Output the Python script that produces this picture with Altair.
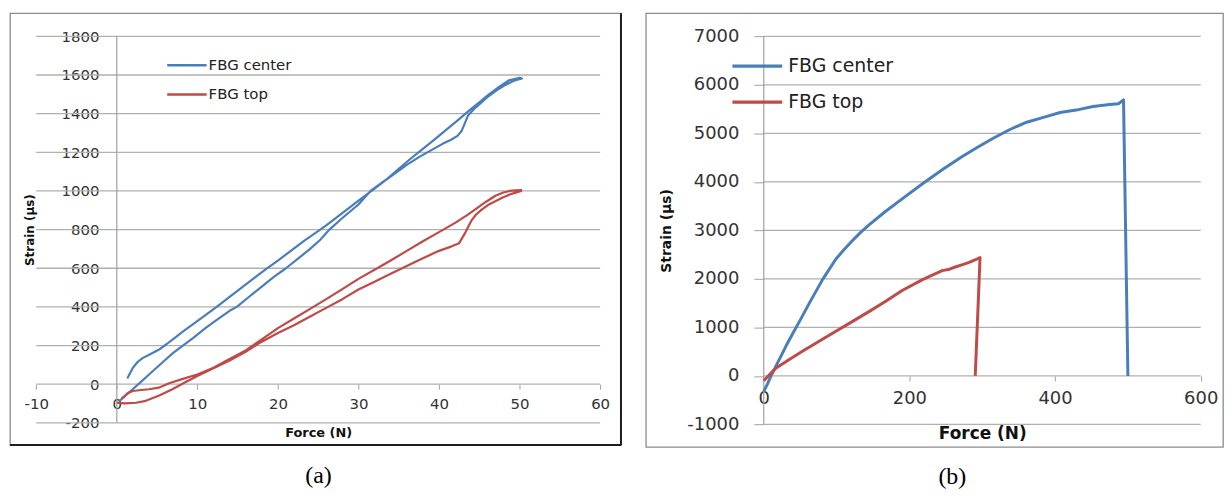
import altair as alt
import pandas as pd

# ---------------- data ----------------
SERIES = ["FBG center", "FBG top"]
COLORS = ["#4a7ebb", "#be4b48"]
X_TITLE = "Force (N)"
Y_TITLE = "Strain (µs)"
CAPTIONS = ["(a)", "(b)"]

A_X_TICKS = [-10, 0, 10, 20, 30, 40, 50, 60]
A_Y_TICKS = [-200, 0, 200, 400, 600, 800, 1000, 1200, 1400, 1600, 1800]
B_X_TICKS = [0, 200, 400, 600]
B_Y_TICKS = [-1000, 0, 1000, 2000, 3000, 4000, 5000, 6000, 7000]

# panel (a) FBG center: loading branch up, then unloading branch down
A_CENTER_FORCE = [0.3, 1.0, 2.0, 3.0, 4.0, 5.0, 6.0, 7.0, 8.2, 9.5, 11.0, 12.5, 14.0, 14.9, 16.5, 18.0,
                  19.5, 21.0, 22.5, 24.0, 25.2, 26.4, 28.0, 30.0, 31.5, 33.0, 34.5, 36.0, 37.5, 39.0,
                  40.5, 41.5, 42.3, 42.8, 43.2, 43.6, 44.5, 46.0, 47.2, 48.3, 49.3, 50.3,
                  50.0, 48.7, 47.5, 46.2, 45.0, 43.8, 42.5, 41.0, 39.5, 38.0, 36.5, 35.0, 33.5, 32.0,
                  30.5, 29.0, 27.5, 26.0, 24.9, 23.2, 21.6, 20.0, 18.6, 17.0, 15.5, 14.0, 12.4, 11.0,
                  9.6, 8.4, 7.2, 6.2, 5.2, 4.2, 3.2, 2.6, 2.0, 1.3]
A_CENTER_STRAIN = [-88, -62, -25, 12, 50, 88, 125, 162, 200, 240, 290, 335, 380, 400, 455, 505,
                   555, 600, 650, 700, 745, 800, 860, 930, 1000, 1045, 1090, 1135, 1175, 1210,
                   1245, 1265, 1285, 1310, 1350, 1390, 1430, 1485, 1522, 1550, 1570, 1582,
                   1586, 1573, 1540, 1500, 1458, 1418, 1372, 1320, 1268, 1218, 1168, 1115, 1060, 1012,
                   965, 918, 870, 822, 790, 740, 690, 640, 598, 548, 500, 452, 400, 358,
                   315, 278, 240, 208, 178, 156, 135, 116, 85, 30]

# panel (a) FBG top
A_TOP_FORCE = [0.0, 1.0, 2.4, 3.6, 5.2, 6.9, 8.5, 10.0, 12.0, 14.0, 16.0, 18.0, 20.0, 22.0, 24.0, 26.0,
               28.0, 30.0, 32.0, 34.0, 36.0, 38.0, 40.0, 41.5, 42.5, 43.3, 44.0, 44.6, 45.3, 46.2,
               47.9, 49.0, 50.2,
               50.2, 49.0, 48.0, 47.0, 45.8, 44.5, 43.5, 42.0, 40.0, 38.0, 36.0, 34.0, 32.0, 30.0,
               28.0, 26.0, 24.0, 22.0, 20.0, 18.0, 16.0, 14.0, 12.0, 10.0, 8.0, 6.5, 5.2, 4.0, 3.0,
               2.0, 1.4, 0.6]
A_TOP_STRAIN = [-95, -99, -96, -86, -60, -26, 10, 42, 82, 122, 168, 220, 265, 305, 350, 395,
                440, 490, 530, 572, 612, 652, 690, 712, 730, 787, 845, 878, 903, 930,
                966, 985, 1000,
                1005, 1002, 992, 975, 943, 905, 875, 835, 787, 740, 690, 640, 592, 545,
                492, 440, 390, 340, 290, 232, 175, 130, 85, 50, 25, 5, -18, -26, -30,
                -35, -45, -75]

# panel (b) FBG center
B_CENTER_FORCE = [0, 5, 10, 20, 30, 40, 50, 62.6, 80.9, 99.1, 110, 121.9, 133, 145, 167, 190, 218, 245,
                  272, 293, 315, 338, 361, 384, 407, 429, 452, 475, 487, 494, 500]
B_CENTER_STRAIN = [-320, -170, 0, 300, 600, 880, 1150, 1500, 1990, 2410, 2600, 2790, 2960, 3120, 3390,
                   3650, 3960, 4250, 4520, 4710, 4900, 5080, 5230, 5330, 5430, 5480, 5555, 5595, 5610,
                   5690, 0]

# panel (b) FBG top
B_TOP_FORCE = [0, 10, 17, 35, 53.6, 76, 99, 122, 145, 168, 190, 218, 245, 255, 262, 272, 282, 290,
               297, 290.4]
B_TOP_STRAIN = [-100, 60, 165, 340, 512, 715, 922, 1125, 1331, 1545, 1760, 1985, 2170, 2200, 2240,
                2290, 2340, 2390, 2440, 0]

# ---------------- styling / layout ----------------
FONT = "DejaVu Sans"
GRID = "#b0b0b0"
AXLINE = "#a0a0a0"
LABEL = "#333333"


def px(v, dom, size):
    return (v - dom[0]) / (dom[1] - dom[0]) * size


def panel(cfg):
    W, H = cfg["W"], cfg["H"]
    xdom, ydom = cfg["xdom"], cfg["ydom"]
    xt, yt = cfg["xticks"], cfg["yticks"]
    x0 = px(0, xdom, W)                 # pixel of force = 0
    y0 = H - px(0, ydom, H)             # pixel of strain = 0
    plot_cx = (px(xt[0], xdom, W) + px(xt[-1], xdom, W)) / 2
    plot_cy = H - (px(yt[0], ydom, H) + px(yt[-1], ydom, H)) / 2

    xaxis = alt.Axis(
        values=xt, labelExpr="'' + datum.value", grid=False, domain=False,
        ticks=True, tickSize=cfg["xtick"], tickColor=AXLINE, tickWidth=1,
        labelPadding=cfg["xpad"], labelFont=FONT, labelFontSize=cfg["lfs"], labelColor=LABEL,
        labelFlush=False, labelOverlap=False, offset=-(H - y0),
        title=X_TITLE, titleFont=FONT, titleFontSize=cfg["xtfs"], titleFontWeight="bold",
        titleColor="#111111", titleX=plot_cx, titleY=cfg["xtitle_dy"],
        titleAlign="center", titleBaseline="middle", titleAngle=0,
    )
    yaxis = alt.Axis(
        values=yt, labelExpr="'' + datum.value", grid=False, domain=False,
        ticks=cfg["ytick"] > 0, tickSize=max(cfg["ytick"], 1), tickColor=GRID, tickWidth=1.2,
        labelPadding=cfg["ypad"], labelFont=FONT, labelFontSize=cfg["lfs"], labelColor=LABEL,
        labelFlush=False, labelOverlap=False, offset=-x0,
        title=Y_TITLE, titleFont=FONT, titleFontSize=cfg["ytfs"], titleFontWeight="bold",
        titleColor="#111111", titleX=cfg["ytitle_x"] - x0, titleY=plot_cy,
        titleAlign="center", titleBaseline="middle", titleAngle=270,
    )
    xs = alt.Scale(domain=xdom, nice=False, zero=False)
    ys = alt.Scale(domain=ydom, nice=False, zero=False)

    def X(f):
        return alt.X(f, type="quantitative", scale=xs, axis=xaxis)

    def Y(f):
        return alt.Y(f, type="quantitative", scale=ys, axis=yaxis)

    grid_df = pd.DataFrame({"gy": yt, "gx0": [xt[0]] * len(yt), "gx1": [xt[-1]] * len(yt)})
    grid = alt.Chart(grid_df).mark_rule(color=GRID, strokeWidth=1.3).encode(
        x=X("gx0"), x2="gx1", y=Y("gy"))

    vline_df = pd.DataFrame({"vx": [0], "vy0": [yt[0]], "vy1": [yt[-1]]})
    vline = alt.Chart(vline_df).mark_rule(color=AXLINE, strokeWidth=1.2).encode(
        x=X("vx"), y=Y("vy0"), y2="vy1")

    rows = []
    for name, fs, ss in cfg["series"]:
        for i, (f, s) in enumerate(zip(fs, ss)):
            rows.append({"series": name, "idx": i, "force": f, "strain": s})
    line_df = pd.DataFrame(rows)
    lines = alt.Chart(line_df).mark_line(strokeWidth=cfg["lw"], strokeJoin="round").encode(
        x=X("force"), y=Y("strain"),
        color=alt.Color("series:N", scale=alt.Scale(domain=SERIES, range=COLORS), legend=None),
        order=alt.Order("idx:Q"),
    )

    layers = [grid, vline, lines]
    lx0, lx1, ltx = cfg["leg_x"]
    for name, col, ly in zip(SERIES, COLORS, cfg["leg_y"]):
        ldf = pd.DataFrame({"series": [name]})
        layers.append(alt.Chart(ldf).mark_rule(color=col, strokeWidth=cfg["lw"] + 0.3).encode(
            x=alt.value(lx0), x2=alt.value(lx1), y=alt.value(ly)))
        layers.append(alt.Chart(ldf).mark_text(
            align="left", baseline="middle", font=FONT, fontSize=cfg["legfs"], color="#222222"
        ).encode(x=alt.value(ltx), y=alt.value(ly), text="series:N"))

    if cfg["shadow"]:
        sdf = pd.DataFrame({"series": [SERIES[0]]})
        layers.append(alt.Chart(sdf).mark_rule(color="#1e1e1e", strokeWidth=2).encode(
            x=alt.value(W), y=alt.value(0), y2=alt.value(H)))
        layers.append(alt.Chart(sdf).mark_rule(color="#1e1e1e", strokeWidth=2).encode(
            x=alt.value(0), x2=alt.value(W), y=alt.value(H)))

    return alt.layer(*layers).properties(
        width=W, height=H,
        title=alt.TitleParams(cfg["caption"], orient="bottom", anchor="middle",
                              font="Liberation Serif", fontSize=24, fontWeight="normal",
                              color="#000000", offset=18, dx=cfg["cap_dx"]),
    )


cfg_a = dict(W=614, H=434, xdom=[-13.26, 62.59], ydom=[-314.8, 1920.0],
             xticks=A_X_TICKS, yticks=A_Y_TICKS, xtick=5, ytick=0, xpad=7, ypad=18,
             lfs=15, xtfs=13, ytfs=12, xtitle_dy=49, ytitle_x=20,
             series=[(SERIES[0], A_CENTER_FORCE, A_CENTER_STRAIN), (SERIES[1], A_TOP_FORCE, A_TOP_STRAIN)],
             lw=2.2, leg_x=(158, 197.6, 199.6), leg_y=[52.3, 81.7], legfs=15,
             caption=CAPTIONS[0], cap_dx=3, shadow=True)
cfg_b = dict(W=580, H=436, xdom=[-161.9, 630.6], ydom=[-1465.6, 7478.0],
             xticks=B_X_TICKS, yticks=B_Y_TICKS, xtick=5, ytick=10, xpad=9, ypad=15,
             lfs=18, xtfs=17, ytfs=14, xtitle_dy=58, ytitle_x=21,
             series=[(SERIES[0], B_CENTER_FORCE, B_CENTER_STRAIN), (SERIES[1], B_TOP_FORCE, B_TOP_STRAIN)],
             lw=3, leg_x=(87, 137, 143), leg_y=[53.3, 89.3], legfs=19,
             caption=CAPTIONS[1], cap_dx=18, shadow=False)

chart = alt.hconcat(panel(cfg_a), panel(cfg_b), spacing=22).properties(
    padding={"left": 0, "top": 2, "right": 0, "bottom": 0},
    background="white",
).configure_view(stroke="#8c8c8c", strokeWidth=1.3)

chart.save("out.html", embed_options={"renderer": "svg", "actions": False})
